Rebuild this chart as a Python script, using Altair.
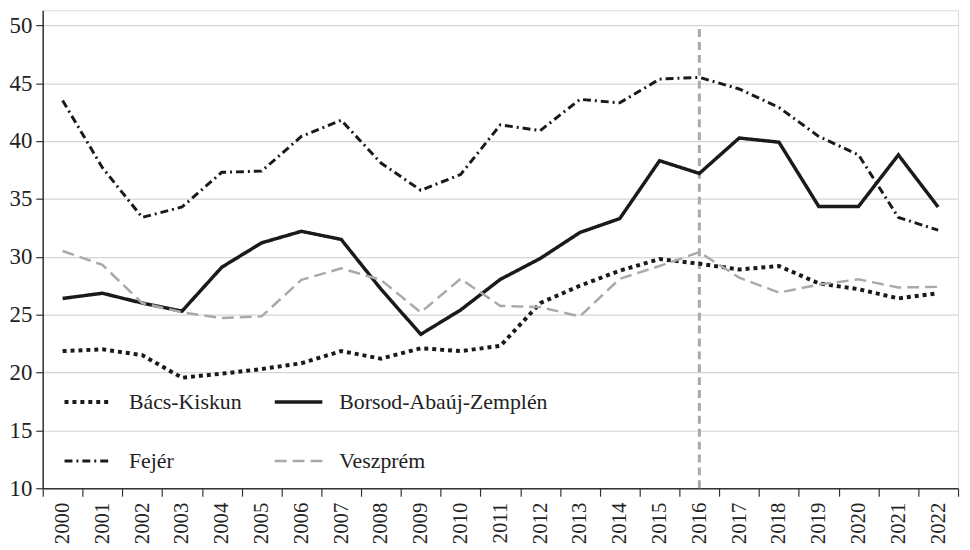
import altair as alt
import pandas as pd

years = [str(y) for y in range(2000, 2023)]
series_names = ["Bács-Kiskun", "Borsod-Abaúj-Zemplén", "Fejér", "Veszprém"]

bacs = [21.85, 22.0, 21.5, 19.55, 19.9, 20.3, 20.8, 21.85, 21.2, 22.1, 21.85, 22.3,
        26.0, 27.5, 28.8, 29.8, 29.4, 28.9, 29.2, 27.7, 27.2, 26.4, 26.85]
borsod = [26.4, 26.85, 26.0, 25.3, 29.1, 31.2, 32.2, 31.5, 27.2, 23.3, 25.4, 28.05,
          29.85, 32.1, 33.3, 38.3, 37.2, 40.26, 39.9, 34.35, 34.35, 38.8, 34.3]
fejer = [43.5, 37.7, 33.4, 34.3, 37.3, 37.4, 40.4, 41.8, 38.1, 35.75, 37.1, 41.4,
         40.9, 43.6, 43.3, 45.35, 45.5, 44.5, 42.9, 40.4, 38.8, 33.4, 32.3]
veszprem = [30.5, 29.3, 26.0, 25.2, 24.7, 24.85, 28.0, 29.0, 28.0, 25.2, 28.1, 25.75,
            25.65, 24.85, 28.1, 29.2, 30.4, 28.2, 26.9, 27.6, 28.05, 27.35, 27.4]

marker_year = ["2016"]
y_ticks = [10, 15, 20, 25, 30, 35, 40, 45, 50]

rows = []
for name, vals in zip(series_names, [bacs, borsod, fejer, veszprem]):
    for yr, v in zip(years, vals):
        rows.append({"year": yr, "value": v, "series": name})
df = pd.DataFrame(rows)

FONT = "Liberation Serif"

x_enc = alt.X(
    "year:O",
    title=None,
    sort=years,
    scale=alt.Scale(type="band", domain=years, paddingInner=0, paddingOuter=0),
    axis=alt.Axis(
        labelAngle=270,
        labelFont=FONT,
        labelFontSize=21,
        labelColor="#222222",
        labelPadding=6,
        tickBand="extent",
        tickSize=8,
        tickColor="#333333",
        domainColor="#333333",
        domainWidth=1.5,
        tickWidth=1.2,
        grid=False,
        labelAlign="right",
        labelBaseline="middle",
    ),
)

y_scale = alt.Scale(domain=[10, 51.3], nice=False, zero=False)

lines = alt.Chart(df).mark_line().encode(
    x=x_enc,
    y=alt.Y(
        "value:Q",
        title=None,
        scale=y_scale,
        axis=alt.Axis(
            values=y_ticks,
            labelFont=FONT,
            labelFontSize=23,
            labelColor="#222222",
            labelPadding=4,
            tickSize=7,
            tickColor="#333333",
            domainColor="#333333",
            domainWidth=1.5,
            tickWidth=1.2,
            grid=True,
            gridColor="#d6d6d6",
            gridWidth=1.2,
        ),
    ),
    color=alt.Color(
        "series:N",
        title=None,
        scale=alt.Scale(domain=series_names,
                        range=["#1a1a1a", "#1a1a1a", "#1a1a1a", "#a9a9a9"]),
        legend=alt.Legend(
            orient="none",
            legendX=20,
            legendY=369,
            columns=2,
            direction="horizontal",
            symbolType="stroke",
            symbolSize=2304,
            labelFont=FONT,
            labelFontSize=22,
            labelColor="#222222",
            labelOffset=15,
            labelLimit=400,
            columnPadding=26,
            rowPadding=23,
            padding=0,
        ),
    ),
    strokeDash=alt.StrokeDash(
        "series:N",
        title=None,
        scale=alt.Scale(domain=series_names,
                        range=[[4, 4], [1, 0], [8, 4, 2, 4], [12, 6]]),
    ),
    strokeWidth=alt.StrokeWidth(
        "series:N",
        title=None,
        scale=alt.Scale(domain=series_names, range=[4, 2.5, 1.5, 4]),
    ),
)

rule_df = pd.DataFrame({"year": marker_year, "lo": [10], "hi": [50]})
rule = alt.Chart(rule_df).mark_rule(
    color="#a9a9a9", strokeWidth=3, strokeDash=[8, 5]
).encode(
    x=alt.X("year:O", sort=years),
    y=alt.Y("lo:Q", scale=y_scale),
    y2="hi:Q",
)

chart = alt.layer(rule, lines).properties(
    width=923,
    height=482,
    autosize=alt.AutoSizeParams(type="none"),
    padding={"left": 35, "top": 0, "right": 4, "bottom": 60},
).configure_view(stroke=None).configure(background="white")

chart.save("out.html", embed_options={"renderer": "svg", "actions": False})
